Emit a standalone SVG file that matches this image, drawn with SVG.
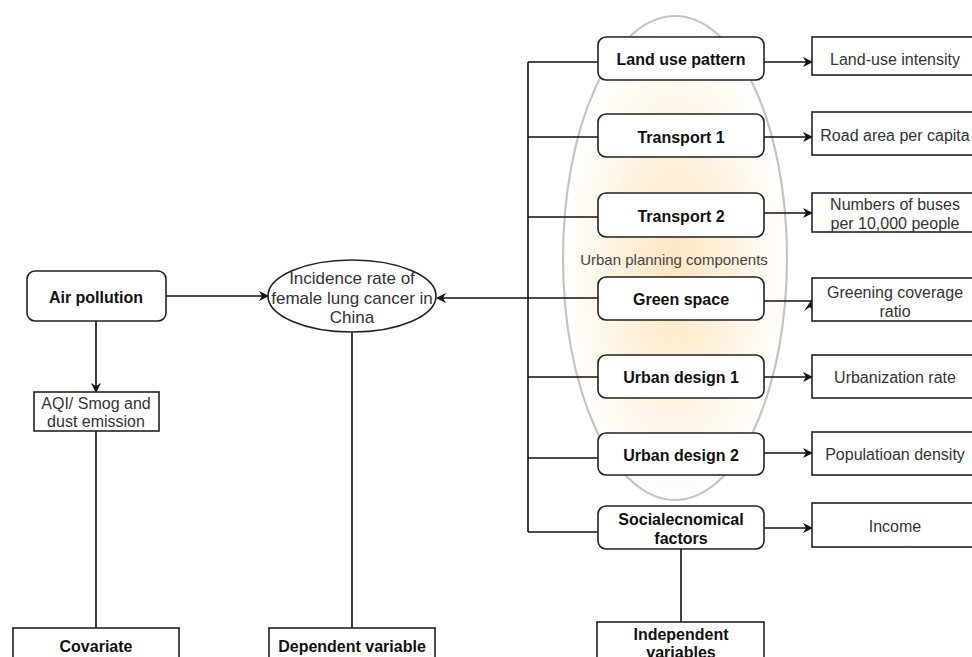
<svg xmlns="http://www.w3.org/2000/svg" width="972" height="657" viewBox="0 0 972 657">
<style>
.box{fill:#fff;stroke:#222;stroke-width:1.6}
.rbox{fill:#fff;stroke:#222;stroke-width:1.6}
.ln{fill:none;stroke:#111;stroke-width:1.6}
.b{font-family:"Liberation Sans",Arial,sans-serif;font-weight:bold;font-size:16px;fill:#111;text-anchor:middle;dominant-baseline:central}
.t{font-family:"Liberation Sans",Arial,sans-serif;font-size:16px;fill:#333;text-anchor:middle;dominant-baseline:central}
</style>
<defs>
<marker id="arr" viewBox="0 0 10 10" refX="9" refY="5" markerWidth="10" markerHeight="10" markerUnits="userSpaceOnUse" orient="auto">
<path d="M0,0 L10,5 L0,10 L3,5 z" fill="#111"/>
</marker>
<radialGradient id="glow" cx="0.5" cy="0.52" r="0.5">
<stop offset="0" stop-color="#fde6c0"/>
<stop offset="0.5" stop-color="#fef2de"/>
<stop offset="1" stop-color="#ffffff"/>
</radialGradient>
</defs>
<rect width="972" height="657" fill="#fff"/>
<g id="urban-planning-group">
<ellipse cx="675" cy="258" rx="112" ry="242" fill="url(#glow)" stroke="#c4c4c4" stroke-width="2.2"/>
<text class="t" x="674" y="259" style="font-size:15px;fill:#444">Urban planning components</text>
</g>
<g id="connectors">
<line class="ln" x1="166" y1="296" x2="268" y2="296" marker-end="url(#arr)"/>
<line class="ln" x1="96" y1="321" x2="96" y2="392" marker-end="url(#arr)"/>
<line class="ln" x1="96" y1="431" x2="96" y2="628"/>
<line class="ln" x1="352" y1="332" x2="352" y2="628"/>
<line class="ln" x1="598" y1="298" x2="437" y2="298" marker-end="url(#arr)"/>
<line class="ln" x1="528" y1="62" x2="528" y2="532"/>
<line class="ln" x1="528" y1="62" x2="598" y2="62"/>
<line class="ln" x1="528" y1="137" x2="598" y2="137"/>
<line class="ln" x1="528" y1="217" x2="598" y2="217"/>
<line class="ln" x1="528" y1="377" x2="598" y2="377"/>
<line class="ln" x1="528" y1="458" x2="598" y2="458"/>
<line class="ln" x1="528" y1="532" x2="598" y2="532"/>
<line class="ln" x1="764" y1="62" x2="812" y2="62" marker-end="url(#arr)"/>
<line class="ln" x1="764" y1="137" x2="812" y2="137" marker-end="url(#arr)"/>
<line class="ln" x1="764" y1="213" x2="812" y2="213" marker-end="url(#arr)"/>
<line class="ln" x1="764" y1="301" x2="812" y2="301"/>
<polygon points="812,299 804,311 810,307 812,310" fill="#111"/>
<line class="ln" x1="764" y1="377" x2="812" y2="377" marker-end="url(#arr)"/>
<line class="ln" x1="764" y1="453" x2="812" y2="453" marker-end="url(#arr)"/>
<line class="ln" x1="764" y1="528" x2="812" y2="528" marker-end="url(#arr)"/>
<line class="ln" x1="681" y1="549" x2="681" y2="622"/>
</g>
<g id="air-pollution">
<rect class="box" x="27" y="271" width="139" height="50" rx="8"/>
<text class="b" x="96" y="297">Air pollution</text>
</g>
<g id="aqi">
<rect class="rbox" x="34" y="392" width="125" height="39"/>
<text class="t" x="96" y="403">AQI/ Smog and</text>
<text class="t" x="96" y="421">dust emission</text>
</g>
<g id="incidence">
<ellipse cx="352" cy="296" rx="84" ry="36" fill="#fff" stroke="#222" stroke-width="1.6"/>
<text class="t" x="352" y="278" style="font-size:17px">Incidence rate of</text>
<text class="t" x="352" y="298" style="font-size:17px">female lung cancer in</text>
<text class="t" x="352" y="317" style="font-size:17px">China</text>
</g>
<g id="land-use-pattern">
<rect class="box" x="598" y="37" width="166" height="43" rx="8"/>
<text class="b" x="681" y="59">Land use pattern</text>
</g>
<g id="transport-1">
<rect class="box" x="598" y="114" width="166" height="43" rx="8"/>
<text class="b" x="681" y="137">Transport 1</text>
</g>
<g id="transport-2">
<rect class="box" x="598" y="193" width="166" height="44" rx="8"/>
<text class="b" x="681" y="216">Transport 2</text>
</g>
<g id="green-space">
<rect class="box" x="598" y="277" width="166" height="43" rx="8"/>
<text class="b" x="681" y="299">Green space</text>
</g>
<g id="urban-design-1">
<rect class="box" x="598" y="355" width="166" height="43" rx="8"/>
<text class="b" x="681" y="377">Urban design 1</text>
</g>
<g id="urban-design-2">
<rect class="box" x="598" y="433" width="166" height="42" rx="8"/>
<text class="b" x="681" y="455">Urban design 2</text>
</g>
<g id="socioeconomical">
<rect class="box" x="598" y="506" width="166" height="43" rx="8"/>
<text class="b" x="681" y="519">Socialecnomical</text>
<text class="b" x="681" y="538">factors</text>
</g>
<g id="land-use-intensity">
<rect class="rbox" x="812" y="37" width="175" height="38"/>
<text class="t" x="895" y="59">Land-use intensity</text>
</g>
<g id="road-area">
<rect class="rbox" x="812" y="112" width="175" height="43"/>
<text class="t" x="895" y="135">Road area per capita</text>
</g>
<g id="buses">
<rect class="rbox" x="812" y="193" width="175" height="39"/>
<text class="t" x="895" y="204">Numbers of buses</text>
<text class="t" x="895" y="223">per 10,000 people</text>
</g>
<g id="greening">
<rect class="rbox" x="812" y="278" width="175" height="43"/>
<text class="t" x="895" y="292">Greening coverage</text>
<text class="t" x="895" y="311">ratio</text>
</g>
<g id="urbanization">
<rect class="rbox" x="812" y="355" width="175" height="43"/>
<text class="t" x="895" y="377">Urbanization rate</text>
</g>
<g id="population-density">
<rect class="rbox" x="812" y="432" width="175" height="43"/>
<text class="t" x="895" y="454">Populatioan density</text>
</g>
<g id="income">
<rect class="rbox" x="812" y="503" width="175" height="44"/>
<text class="t" x="895" y="526">Income</text>
</g>
<g id="covariate">
<rect class="rbox" x="13" y="628" width="166" height="45"/>
<text class="b" x="96" y="646">Covariate</text>
</g>
<g id="dependent-variable">
<rect class="rbox" x="269" y="628" width="166" height="45"/>
<text class="b" x="352" y="646">Dependent variable</text>
</g>
<g id="independent-variables">
<rect class="rbox" x="597" y="622" width="167" height="50"/>
<text class="b" x="681" y="634">Independent</text>
<text class="b" x="681" y="652">variables</text>
</g>
</svg>
